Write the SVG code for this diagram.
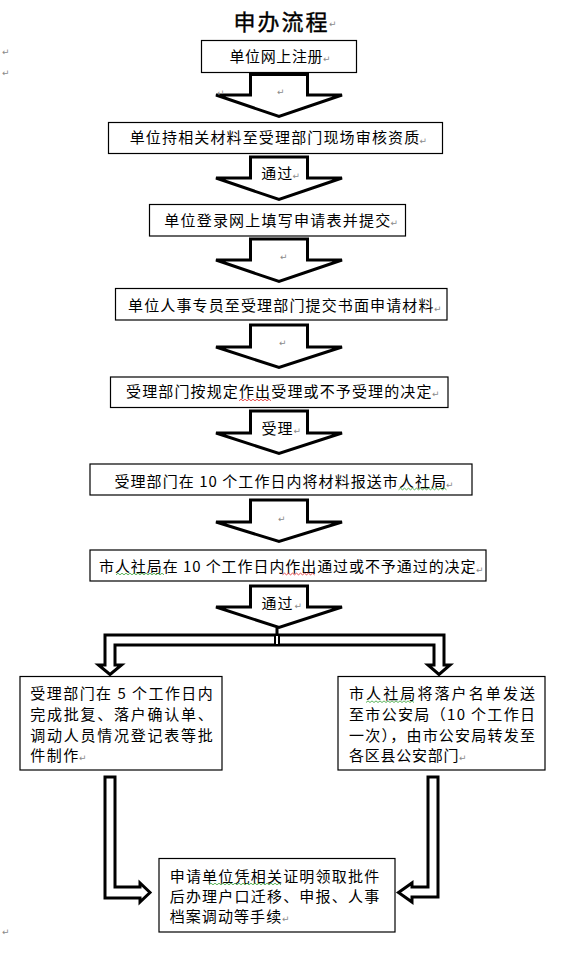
<svg xmlns="http://www.w3.org/2000/svg" width="565" height="964" viewBox="0 0 565 964">
<style>
.box{fill:#fff;stroke:#000;stroke-width:1.2}
.arr{fill:#fff;stroke:#000;stroke-width:3;stroke-linejoin:miter}
.t{font-family:"Noto Sans CJK SC","Liberation Sans",sans-serif;font-size:15px;fill:#000}
.ttl{font-family:"Noto Sans CJK SC","Liberation Sans",sans-serif;font-size:22px;font-weight:normal;fill:#000;stroke:#000;stroke-width:0.4}
.rm{font-family:"DejaVu Sans",sans-serif;font-size:9px;fill:#8a8a8a}
.sqr{fill:none;stroke:#e02020;stroke-width:0.8}
.sqg{fill:none;stroke:#30a030;stroke-width:0.8}
</style>
<rect width="565" height="964" fill="#fff"/>
<g id="title">
<text class="ttl" x="233.5" y="29.5" textLength="94" lengthAdjust="spacing">申办流程</text>
<text class="rm" x="329" y="27">↵</text>
</g>
<g id="margin-marks">
<text class="rm" x="2" y="55">↵</text>
<text class="rm" x="2" y="76">↵</text>
<text class="rm" x="2" y="935">↵</text>
</g>
<g id="connectors">
<path class="arr" d="M250.5,74.5 H307.5 V95 H342 L279,116.5 L216,95 H250.5 Z"/>
<path class="arr" d="M250.5,157 H307.5 V178 H342 L279,199.5 L216,178 H250.5 Z"/>
<path class="arr" d="M250.5,239 H307.5 V260 H342 L279,281.5 L216,260 H250.5 Z"/>
<path class="arr" d="M250.5,325 H307.5 V347 H342 L279,367.5 L216,347 H250.5 Z"/>
<path class="arr" d="M250.5,411 H307.5 V433 H342 L279,453.5 L216,433 H250.5 Z"/>
<path class="arr" d="M250.5,500 H307.5 V522 H342 L279,541.5 L216,522 H250.5 Z"/>
<path class="arr" d="M250.5,586 H307.5 V607 H342 L279,627.5 L216,607 H250.5 Z"/>
<path class="arr" d="M105,665 V635 H444 V665 H450 L439,674.5 L428,665 H434 V645 H115 V665 H121.5 L110,674.5 L98.5,665 Z"/>
<line x1="277" y1="628" x2="277" y2="636" stroke="#000" stroke-width="3"/>
<rect x="275" y="635" width="4" height="10" fill="#fff" stroke="#000" stroke-width="2"/>
<path class="arr" d="M105,777 H115 V887 H140 V883 L150,892.5 L140,902 V898 H105 Z"/>
<path class="arr" d="M428,777 H438 V897 H412 V902 L398.5,892.5 L412,883 V887 H428 Z"/>
<text class="t" x="261.2" y="178.7" textLength="31" lengthAdjust="spacing">通过</text>
<text class="rm" x="292.5" y="179">↵</text>
<text class="t" x="261.5" y="433.7" textLength="31" lengthAdjust="spacing">受理</text>
<text class="rm" x="293.5" y="434">↵</text>
<text class="t" x="261.5" y="609" textLength="31" lengthAdjust="spacing">通过</text>
<text class="rm" x="294.5" y="609">↵</text>
<text class="rm" x="217" y="96">↵</text>
<text class="rm" x="277" y="95">↵</text>
<text class="rm" x="280" y="260">↵</text>
<text class="rm" x="279" y="346">↵</text>
<text class="rm" x="278" y="522">↵</text>
</g>
<g id="n1">
<rect class="box" x="201.5" y="40.5" width="155" height="32"/>
<text class="t" x="229.5" y="62" textLength="93" lengthAdjust="spacing">单位网上注册</text>
<text class="rm" x="323" y="62">↵</text>
</g>
<g id="n2">
<rect class="box" x="108.5" y="122.5" width="334" height="31"/>
<text class="t" x="129.7" y="143.4" textLength="289.5" lengthAdjust="spacing">单位持相关材料至受理部门现场审核资质</text>
<text class="rm" x="419.5" y="144">↵</text>
</g>
<g id="n3">
<rect class="box" x="149.5" y="204.5" width="256" height="31.5"/>
<text class="t" x="164.2" y="225.7" textLength="226" lengthAdjust="spacing">单位登录网上填写申请表并提交</text>
<text class="rm" x="390.5" y="226">↵</text>
</g>
<g id="n4">
<rect class="box" x="115.5" y="288.5" width="331.5" height="31.5"/>
<text class="t" x="128" y="311.4" textLength="305.5" lengthAdjust="spacing">单位人事专员至受理部门提交书面申请材料</text>
<text class="rm" x="434" y="312">↵</text>
</g>
<g id="n5">
<rect class="box" x="110.5" y="377" width="337.5" height="30.5"/>
<text class="t" x="126" y="396.7" textLength="305.5" lengthAdjust="spacing">受理部门按规定作出受理或不予受理的决定</text>
<text class="rm" x="432" y="397">↵</text>
<path class="sqr" d="M239,400.8 l2,-1.6 2,1.6 2,-1.6 2,1.6 2,-1.6 2,1.6 2,-1.6 2,1.6 2,-1.6 2,1.6 2,-1.6 2,1.6 2,-1.6 2,1.6 2,-1.6 2,1.6"/>
</g>
<g id="n6">
<rect class="box" x="90" y="464" width="382" height="31"/>
<text class="t" x="114.5" y="487.4" textLength="331.5" lengthAdjust="spacing">受理部门在 10 个工作日内将材料报送市人社局</text>
<text class="rm" x="446" y="488">↵</text>
<path class="sqg" d="M398.5,489.8 l2,-1.6 2,1.6 2,-1.6 2,1.6 2,-1.6 2,1.6 2,-1.6 2,1.6 2,-1.6 2,1.6 2,-1.6 2,1.6 2,-1.6 2,1.6 2,-1.6 2,1.6 2,-1.6 2,1.6 2,-1.6 2,1.6 2,-1.6 2,1.6 2,-1.6 2,1.6"/>
</g>
<g id="n7">
<rect class="box" x="90" y="550" width="396" height="31"/>
<text class="t" x="99" y="572.4" textLength="376.5" lengthAdjust="spacing">市人社局在 10 个工作日内作出通过或不予通过的决定</text>
<text class="rm" x="476" y="573">↵</text>
<path class="sqg" d="M116,574.8 l2,-1.6 2,1.6 2,-1.6 2,1.6 2,-1.6 2,1.6 2,-1.6 2,1.6 2,-1.6 2,1.6 2,-1.6 2,1.6 2,-1.6 2,1.6 2,-1.6 2,1.6 2,-1.6 2,1.6 2,-1.6 2,1.6 2,-1.6 2,1.6 2,-1.6 2,1.6"/>
<path class="sqr" d="M282.5,574.8 l2,-1.6 2,1.6 2,-1.6 2,1.6 2,-1.6 2,1.6 2,-1.6 2,1.6 2,-1.6 2,1.6 2,-1.6 2,1.6 2,-1.6 2,1.6 2,-1.6 2,1.6"/>
</g>
<g id="n8">
<rect class="box" x="20" y="676.5" width="202" height="93.5"/>
<text class="t" x="30.3" y="699.2" textLength="182.5" lengthAdjust="spacing">受理部门在 5 个工作日内</text>
<text class="t" x="30.3" y="719.9" textLength="182.5" lengthAdjust="spacing">完成批复、落户确认单、</text>
<text class="t" x="30.3" y="740.6" textLength="182.5" lengthAdjust="spacing">调动人员情况登记表等批</text>
<text class="t" x="30.3" y="761.3" textLength="48" lengthAdjust="spacing">件制作</text>
<text class="rm" x="79" y="761">↵</text>
</g>
<g id="n9">
<rect class="box" x="338" y="676.5" width="207" height="93.5"/>
<text class="t" x="349" y="699.2" textLength="186" lengthAdjust="spacing">市人社局将落户名单发送</text>
<text class="t" x="349" y="719.9" textLength="186" lengthAdjust="spacing">至市公安局（10 个工作日</text>
<text class="t" x="349" y="740.6" textLength="186" lengthAdjust="spacing">一次），由市公安局转发至</text>
<text class="t" x="349" y="761.3" textLength="109.5" lengthAdjust="spacing">各区县公安部门</text>
<text class="rm" x="459" y="761">↵</text>
<path class="sqg" d="M366,702.5 l2,-1.6 2,1.6 2,-1.6 2,1.6 2,-1.6 2,1.6 2,-1.6 2,1.6 2,-1.6 2,1.6 2,-1.6 2,1.6 2,-1.6 2,1.6 2,-1.6 2,1.6 2,-1.6 2,1.6 2,-1.6 2,1.6 2,-1.6 2,1.6 2,-1.6 2,1.6"/>
</g>
<g id="n10">
<rect class="box" x="159" y="858.5" width="236" height="73.5"/>
<text class="t" x="169.7" y="881.7" textLength="209.5" lengthAdjust="spacing">申请单位凭相关证明领取批件</text>
<text class="t" x="169.7" y="901.7" textLength="209.5" lengthAdjust="spacing">后办理户口迁移、申报、人事</text>
<text class="t" x="169.7" y="921.7" textLength="111.5" lengthAdjust="spacing">档案调动等手续</text>
<text class="rm" x="282" y="922">↵</text>
<path class="sqg" d="M209,884.8 l2,-1.6 2,1.6 2,-1.6 2,1.6 2,-1.6 2,1.6 2,-1.6 2,1.6 2,-1.6 2,1.6 2,-1.6 2,1.6 2,-1.6 2,1.6 2,-1.6 2,1.6 2,-1.6 2,1.6 2,-1.6 2,1.6 2,-1.6 2,1.6 2,-1.6 2,1.6 2,-1.6 2,1.6 2,-1.6 2,1.6 2,-1.6 2,1.6 2,-1.6 2,1.6 2,-1.6 2,1.6 2,-1.6 2,1.6"/>
</g>
</svg>
